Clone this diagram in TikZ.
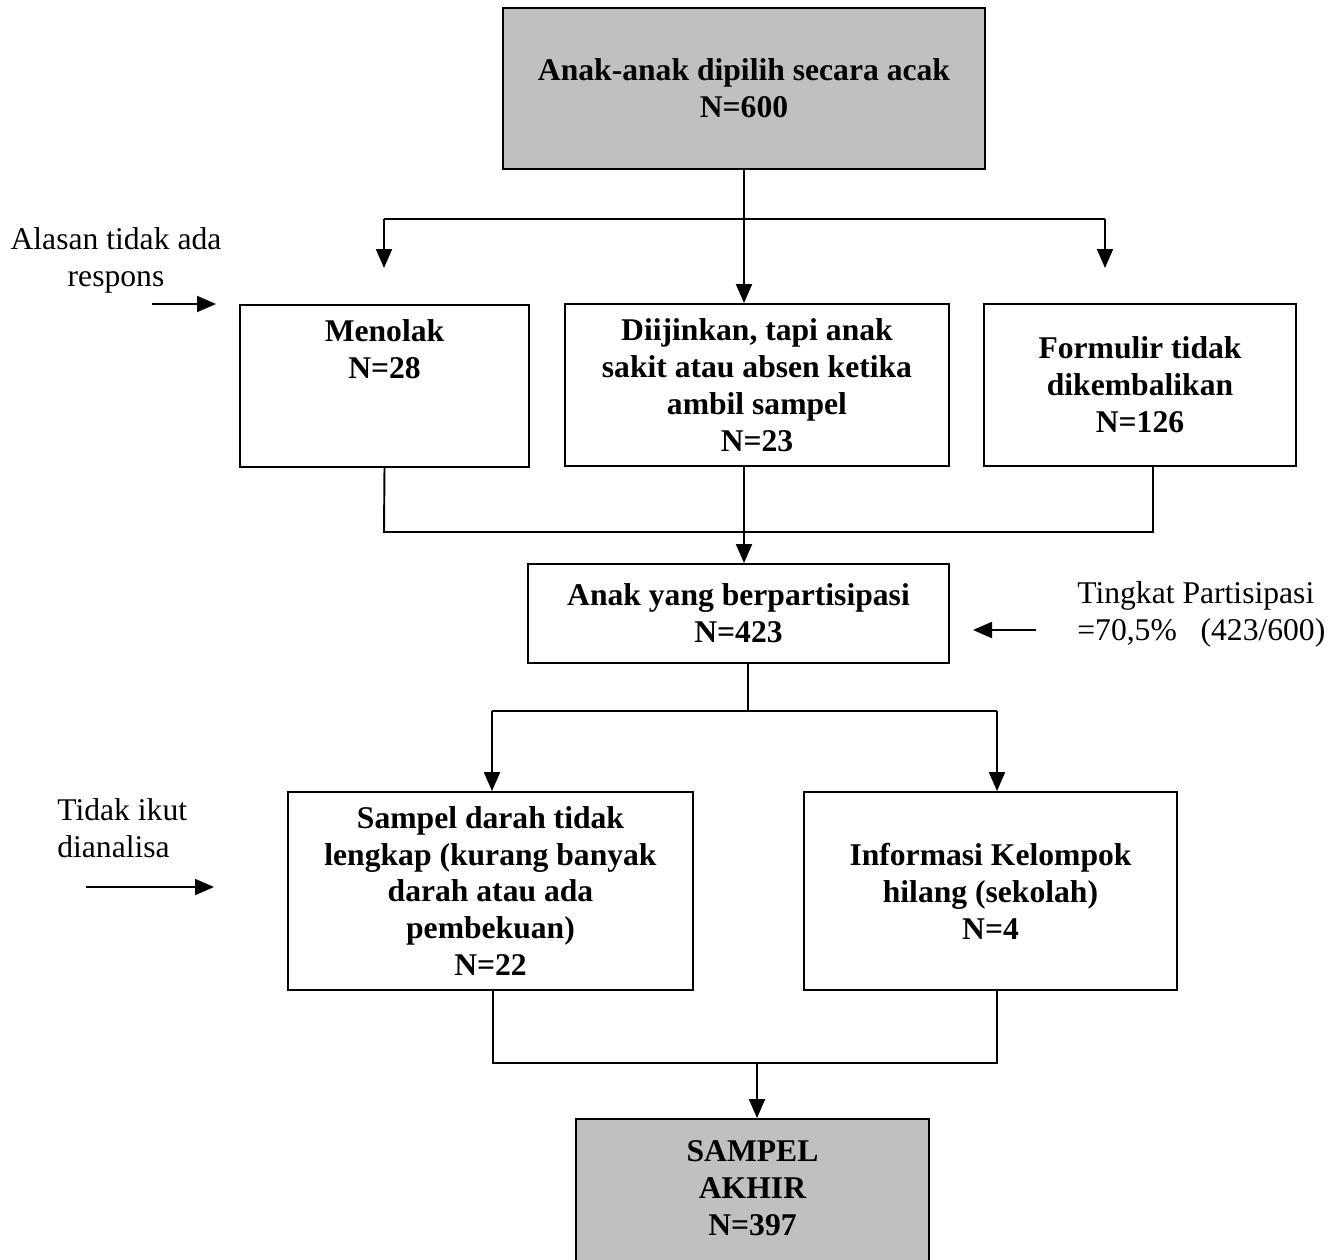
\documentclass[tikz,border=0pt]{standalone}
\usepackage{fontspec}
\setmainfont{Liberation Serif}
\usetikzlibrary{arrows.meta}

\definecolor{boxgray}{HTML}{C0C0C0}

\begin{document}
\begin{tikzpicture}[
    x=0.02cm, y=-0.02cm,
    box/.style={draw=black, fill=#1, line width=1.1pt, inner sep=0pt, align=center,
        font=\fontsize{18}{21}\selectfont\bfseries},
    box/.default=white,
    note/.style={font=\fontsize{18}{21}\selectfont, inner sep=0pt},
    line/.style={draw=black, line width=1.1pt},
    arr/.style={line, -{Triangle[length=0.38cm, width=0.32cm]}}
]
\useasboundingbox (0,0) rectangle (1336,1259);
\fill[white] (0,0) rectangle (1336,1259);
\clip (0,0) rectangle (1336,1259);

% Boxes
\node[box=boxgray, minimum width=9.64cm, minimum height=3.22cm] (top) at (744,88.5)
    {Anak-anak dipilih secara acak\\N=600};
\node[box, minimum width=5.78cm, minimum height=3.24cm] (menolak) at (384.5,386)
    {Menolak\\N=28\\\mbox{}\\\mbox{}};
\node[box, minimum width=7.68cm, minimum height=3.24cm] (sakit) at (757,385)
    {Diijinkan, tapi anak\\sakit atau absen ketika\\ambil sampel\\N=23};
\node[box, minimum width=6.24cm, minimum height=3.24cm] (formulir) at (1140,385)
    {Formulir tidak\\dikembalikan\\N=126};
\node[box, minimum width=8.42cm, minimum height=1.98cm] (ikut) at (738.5,613.5)
    {Anak yang berpartisipasi\\N=423};
\node[box, minimum width=8.1cm, minimum height=3.96cm] (darah) at (490.5,891)
    {Sampel darah tidak\\lengkap (kurang banyak\\darah atau ada\\pembekuan)\\N=22};
\node[box, minimum width=7.46cm, minimum height=3.96cm] (info) at (990.5,891)
    {Informasi Kelompok\\hilang (sekolah)\\N=4};
\node[box=boxgray, minimum width=7.06cm, minimum height=3.5cm] (akhir) at (752.5,1206.5)
    {SAMPEL\\AKHIR\\N=397\\\mbox{}};

% Side notes
\node[note, align=center] (alasan) at (116,260) {Alasan tidak ada\\respons};
\node[note, align=left, anchor=west] (tidak) at (57,828) {Tidak ikut\\dianalisa};
\node[note, align=left, anchor=west] (tingkat) at (1077,614)
    {Tingkat Partisipasi\\=70,5\%\ \ \ (423/600)};

% Split after selection
\coordinate (t0) at (744,219);
\coordinate (tl) at (384,219);
\coordinate (tr) at (1105,219);
\coordinate (tl') at (384,268);
\coordinate (tr') at (1105,268);
\draw[line] (top.south) -- (t0);
\draw[line] (tl) -- (tr);
\draw[arr] (tl) -- (tl');
\draw[arr] (tr) -- (tr');
\draw[arr] (t0) -- (t0 |- sakit.north);

% Join to participants
\coordinate (ja) at (384,532);
\coordinate (jb) at (1153,532);
\coordinate (jc) at (744,532);
\draw[line] (menolak.south) -- (ja) -- (jb) -- (jb |- formulir.south);
\draw[arr] (sakit.south -| jc) -- (ikut.north -| jc);

% Split after participants
\coordinate (k0) at (748,711);
\coordinate (kl) at (492,711);
\coordinate (kr) at (997,711);
\draw[line] (ikut.south -| k0) -- (k0);
\draw[line] (kl) -- (kr);
\draw[arr] (kl) -- (kl |- darah.north);
\draw[arr] (kr) -- (kr |- info.north);

% Join to final sample
\coordinate (la) at (493,1063);
\coordinate (lb) at (997,1063);
\coordinate (lc) at (757,1063);
\draw[line] (darah.south -| la) -- (la) -- (lb) -- (lb |- info.south);
\draw[arr] (lc) -- (lc |- akhir.north);

% Side arrows
\coordinate (a1) at (152,304);
\coordinate (a2) at (216,304);
\coordinate (b1) at (86,887);
\coordinate (b2) at (214,887);
\coordinate (c1) at (1036,630);
\coordinate (c2) at (973,630);
\draw[arr] (a1) -- (a2);
\draw[arr] (b1) -- (b2);
\draw[arr] (c1) -- (c2);

\end{tikzpicture}
\end{document}
